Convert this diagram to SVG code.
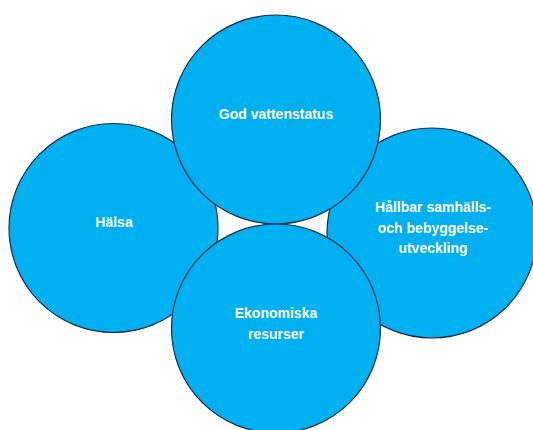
<svg xmlns="http://www.w3.org/2000/svg" width="533" height="430" viewBox="0 0 533 430">
<style>
.c{fill:#00B0F0;stroke:#1B2A48;stroke-width:1.2}
.t{font-family:"Liberation Sans",Arial,sans-serif;font-weight:bold;font-size:14px;fill:#fff;text-anchor:middle}
</style>
<rect width="533" height="430" fill="#fff"/>
<g id="halsa"><circle class="c" cx="113.5" cy="228" r="104.5"/><text class="t" x="114" y="227">Hälsa</text></g>
<g id="hallbar"><circle class="c" cx="432" cy="233" r="105"/><text class="t" x="433" y="212">Hållbar samhälls-</text><text class="t" x="433" y="232.5">och bebyggelse-</text><text class="t" x="433" y="253">utveckling</text></g>
<g id="vatten"><circle class="c" cx="276" cy="119.5" r="104.5"/><text class="t" x="276" y="119">God vattenstatus</text></g>
<g id="ekonomi"><circle class="c" cx="276" cy="328.5" r="104.5"/><text class="t" x="276" y="318">Ekonomiska</text><text class="t" x="276" y="339">resurser</text></g>
<g id="connectors"></g>
</svg>
